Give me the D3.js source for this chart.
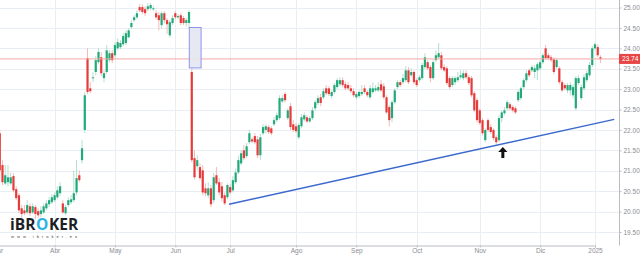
<!DOCTYPE html>
<html>
<head>
<meta charset="utf-8">
<script src="https://cdn.jsdelivr.net/npm/d3@7"></script>
<style>
    body { margin: 0; background: #fff; }
    svg { display: block; font-family: Roboto, "Open Sans", sans-serif; }
</style>
</head>
<body>
<svg id="chart" width="640" height="256"></svg>
<script>
// daily candles, first one is session 1 of the index axis
var first_index = 1;

var open_p = [
    21.92, 21.14, 20.69, 20.72, 20.69, 20.87, 20.55, 20.40, 20.08, 20.03,
    19.98, 20.13, 19.98, 20.11, 20.01, 19.94, 19.98, 20.08, 20.18, 20.23,
    20.28, 20.35, 20.45, 20.20, 19.96, 20.16, 20.23, 20.28, 20.47, 20.89,
    21.26, 22.00, 23.76, 23.02, 23.27, 23.42, 23.66, 23.78, 23.27, 23.42,
    23.71, 23.88, 23.83, 24.00, 24.03, 24.10, 24.13, 24.27, 24.52, 24.69,
    24.76, 25.01, 25.01, 24.96, 24.96, 24.98, 24.96, 24.86, 24.81, 24.57,
    24.86, 24.69, 24.32, 24.62, 24.86, 24.76, 24.81, 24.74, 24.62, 24.62,
    23.42, 21.31, 21.11, 21.09, 21.01, 20.57, 20.40, 20.57, 20.28, 20.89,
    20.72, 20.62, 20.40, 20.35, 20.60, 20.52, 20.72, 20.96, 21.18, 21.50,
    21.36, 21.70, 21.77, 21.85, 21.77, 21.38, 21.92, 22.00, 22.07, 22.04,
    22.14, 22.24, 22.29, 22.70, 22.88, 22.29, 22.58, 22.14, 22.09, 21.82,
    22.09, 22.26, 22.31, 22.21, 22.29, 22.53, 22.66, 22.80, 22.80, 23.02,
    23.02, 22.83, 22.93, 23.05, 23.12, 23.22, 23.12, 23.10, 23.02, 22.95,
    22.80, 22.83, 22.88, 23.02, 22.93, 22.80, 22.93, 22.97, 22.97, 23.12,
    23.07, 22.80, 22.56, 22.29, 22.68, 23.05, 23.17, 23.17, 23.22, 23.46,
    23.34, 23.42, 23.22, 23.22, 23.27, 23.54, 23.66, 23.54, 23.27, 23.71,
    23.78, 23.83, 23.54, 23.51, 23.27, 23.10, 23.17, 23.22, 23.29, 23.27,
    23.39, 23.29, 23.27, 22.90, 22.73, 22.48, 22.24, 21.75, 22.24, 22.07,
    22.00, 21.82, 21.75, 22.29, 22.41, 22.53, 22.63, 22.56, 22.53, 22.73,
    22.78, 23.05, 23.22, 23.46, 23.46, 23.42, 23.46, 23.51, 23.66, 24.00,
    23.83, 23.78, 23.73, 23.54, 23.51, 23.17, 23.10, 22.97, 22.97, 22.85,
    22.53, 23.15, 22.78, 23.02, 23.22, 23.34, 23.59, 24.00, 24.03, 23.78
];
var high_p = [
    22.00, 21.26, 21.14, 21.14, 20.96, 20.94, 20.62, 20.45, 20.16, 20.16,
    20.28, 20.20, 20.20, 20.16, 20.08, 20.13, 20.20, 20.28, 20.35, 20.43,
    20.47, 20.62, 20.72, 20.28, 20.16, 20.35, 20.40, 21.01, 21.26, 21.01,
    21.75, 22.93, 24.00, 23.17, 23.42, 23.81, 24.00, 23.91, 23.46, 24.08,
    23.95, 23.95, 24.15, 24.25, 24.20, 24.37, 24.44, 24.49, 24.69, 24.81,
    24.93, 25.08, 25.08, 25.03, 25.11, 25.11, 25.03, 24.93, 24.89, 24.91,
    24.91, 24.74, 24.69, 24.81, 24.91, 24.84, 24.86, 24.79, 24.74, 24.93,
    23.51, 21.50, 21.38, 21.18, 21.14, 20.69, 20.72, 20.65, 20.94, 21.09,
    20.82, 20.72, 20.47, 20.69, 20.67, 20.87, 21.06, 21.36, 21.50, 21.63,
    21.68, 22.00, 21.82, 21.92, 21.85, 21.90, 22.14, 22.14, 22.12, 22.09,
    22.31, 22.43, 22.85, 22.85, 22.93, 22.53, 22.66, 22.24, 22.17, 22.17,
    22.39, 22.43, 22.36, 22.34, 22.56, 22.73, 22.85, 22.88, 23.02, 23.10,
    23.07, 22.97, 23.15, 23.27, 23.29, 23.29, 23.19, 23.17, 23.10, 23.02,
    22.93, 22.97, 23.10, 23.10, 22.97, 23.10, 23.17, 23.10, 23.17, 23.22,
    23.15, 22.85, 22.61, 22.73, 23.02, 23.22, 23.22, 23.37, 23.56, 23.54,
    23.51, 23.46, 23.27, 23.34, 23.64, 23.88, 23.71, 23.59, 23.71, 23.95,
    24.13, 23.91, 23.61, 23.56, 23.32, 23.32, 23.32, 23.42, 23.46, 23.46,
    23.46, 23.34, 23.32, 22.95, 22.78, 22.53, 22.29, 22.04, 22.29, 22.14,
    22.04, 21.87, 22.36, 22.48, 22.56, 22.73, 22.68, 22.61, 22.58, 22.97,
    23.07, 23.27, 23.46, 23.51, 23.59, 23.59, 23.66, 23.71, 23.88, 24.08,
    23.88, 23.83, 23.78, 23.76, 23.56, 23.22, 23.15, 23.15, 23.17, 23.12,
    23.32, 23.34, 23.12, 23.37, 23.46, 23.66, 24.05, 24.15, 24.10, 23.83
];
var low_p = [
    20.82, 20.65, 20.65, 20.62, 20.65, 20.47, 20.28, 19.96, 19.84, 19.91,
    19.94, 19.89, 19.94, 19.81, 19.84, 19.86, 19.94, 20.03, 20.11, 20.18,
    20.23, 20.30, 20.38, 19.94, 19.91, 20.11, 20.18, 20.23, 20.40, 20.72,
    21.18, 21.92, 22.88, 22.90, 23.17, 23.34, 23.61, 23.32, 23.17, 23.37,
    23.66, 23.64, 23.78, 23.95, 23.98, 24.05, 24.08, 24.25, 24.47, 24.64,
    24.71, 24.89, 24.84, 24.79, 24.91, 24.93, 24.91, 24.71, 24.44, 24.49,
    24.62, 24.35, 24.27, 24.57, 24.71, 24.71, 24.57, 24.57, 24.54, 24.49,
    21.21, 20.79, 21.01, 20.77, 20.40, 20.38, 20.33, 20.11, 20.20, 20.65,
    20.40, 20.25, 20.16, 20.30, 20.43, 20.47, 20.67, 20.92, 21.14, 21.26,
    21.31, 21.65, 21.68, 21.65, 21.31, 21.26, 21.87, 21.92, 21.90, 21.87,
    22.09, 22.19, 22.24, 22.66, 22.68, 22.24, 22.00, 21.95, 21.92, 21.77,
    22.04, 22.21, 22.17, 22.17, 22.24, 22.48, 22.61, 22.58, 22.75, 22.85,
    22.83, 22.78, 22.88, 23.00, 23.07, 23.05, 22.97, 22.97, 22.90, 22.80,
    22.75, 22.78, 22.83, 22.88, 22.80, 22.75, 22.88, 22.93, 22.93, 22.93,
    22.75, 22.39, 22.09, 22.19, 22.63, 23.00, 23.05, 23.12, 23.17, 23.12,
    23.29, 23.12, 23.05, 23.17, 23.22, 23.49, 23.46, 23.17, 23.22, 23.66,
    23.73, 23.46, 23.42, 23.10, 23.00, 23.05, 23.10, 23.17, 23.24, 23.22,
    23.24, 23.10, 22.80, 22.43, 22.19, 22.12, 21.87, 21.70, 21.95, 21.90,
    21.75, 21.65, 21.70, 22.19, 22.36, 22.48, 22.48, 22.43, 22.39, 22.68,
    22.73, 23.00, 23.17, 23.29, 23.42, 23.27, 23.22, 23.46, 23.61, 23.71,
    23.71, 23.66, 23.37, 23.49, 23.12, 22.93, 22.97, 22.90, 22.85, 22.78,
    22.48, 23.10, 22.73, 22.97, 23.17, 23.29, 23.54, 23.95, 23.78, 23.64
];
var close_p = [
    21.01, 20.72, 20.89, 20.84, 20.84, 20.52, 20.33, 20.03, 19.94, 19.96,
    20.16, 19.96, 20.13, 19.94, 19.91, 20.03, 20.13, 20.20, 20.28, 20.35,
    20.40, 20.52, 20.62, 19.98, 20.11, 20.28, 20.30, 20.45, 20.82, 20.77,
    21.55, 22.85, 22.93, 22.95, 23.29, 23.71, 23.91, 23.39, 23.39, 23.95,
    23.88, 23.71, 24.08, 24.15, 24.13, 24.30, 24.37, 24.44, 24.62, 24.76,
    24.86, 24.93, 24.89, 24.86, 25.03, 25.06, 24.98, 24.76, 24.69, 24.86,
    24.69, 24.59, 24.64, 24.74, 24.76, 24.79, 24.62, 24.62, 24.69, 24.89,
    21.26, 20.84, 21.26, 20.82, 20.47, 20.45, 20.57, 20.18, 20.84, 20.69,
    20.47, 20.33, 20.20, 20.65, 20.47, 20.77, 20.96, 21.26, 21.43, 21.31,
    21.60, 21.92, 21.72, 21.70, 21.38, 21.82, 22.07, 22.09, 21.95, 21.92,
    22.24, 22.36, 22.78, 22.78, 22.73, 22.48, 22.07, 22.00, 21.97, 22.12,
    22.31, 22.36, 22.21, 22.29, 22.48, 22.68, 22.78, 22.66, 22.95, 22.90,
    22.88, 22.93, 23.10, 23.22, 23.22, 23.10, 23.02, 23.02, 22.95, 22.85,
    22.88, 22.93, 22.93, 22.93, 22.85, 23.02, 23.02, 23.02, 23.05, 22.97,
    22.80, 22.43, 22.24, 22.68, 22.97, 23.17, 23.10, 23.27, 23.46, 23.17,
    23.42, 23.17, 23.10, 23.29, 23.59, 23.78, 23.51, 23.27, 23.66, 23.83,
    23.88, 23.51, 23.46, 23.15, 23.05, 23.27, 23.27, 23.29, 23.34, 23.39,
    23.29, 23.15, 22.85, 22.48, 22.24, 22.17, 21.92, 22.00, 22.00, 21.95,
    21.80, 21.70, 22.29, 22.43, 22.48, 22.68, 22.53, 22.48, 22.43, 22.93,
    23.02, 23.22, 23.39, 23.34, 23.54, 23.51, 23.61, 23.66, 23.83, 23.76,
    23.76, 23.71, 23.42, 23.71, 23.17, 22.97, 23.02, 23.10, 23.10, 23.05,
    23.27, 23.27, 23.05, 23.29, 23.39, 23.59, 24.00, 24.10, 23.83, 23.74
];

// month boundaries on the session axis
var month_labels = ['Mar', 'Abr', 'May', 'Jun', 'Jul', 'Ago', 'Sep', 'Oct', 'Nov', 'Dic', '2025'];
var month_index = [0, 21, 43, 65, 85, 109, 131, 153, 176, 198, 218];

var price_ticks = [19.5, 20.0, 20.5, 21.0, 21.5, 22.0, 22.5, 23.0, 23.5, 24.0, 24.5, 25.0];
var last_price = 23.74;

// annotations: [session, price]
var trend_line = [[84.6, 20.18], [225, 22.26]];
var gap_box = {from: 70.1, to: 74.4, top: 24.51, bottom: 23.52};
var arrow_at = [184.4, 21.58];

var plot_right = 619, plot_bottom = 245;
var green = '#22a979', red = '#e63b3b';

var svg = d3.select('#chart');
var x = d3.scaleLinear().domain([0, 218]).range([-3, 595]);
var y = d3.scaleLinear().domain([19.5, 25]).range([232, 7.5]);

svg.append('defs').append('clipPath').attr('id', 'plot_clip')
    .append('rect').attr('x', 0).attr('y', 0).attr('width', plot_right).attr('height', plot_bottom);

function draw_grid(){
    var grid = svg.append('g').attr('class', 'grid');
    grid.selectAll('line.h').data(price_ticks).enter().append('line')
        .attr('class', 'h')
        .attr('x1', 0).attr('x2', plot_right)
        .attr('y1', function(d){ return Math.round(y(d)) + 0.5; })
        .attr('y2', function(d){ return Math.round(y(d)) + 0.5; })
        .attr('stroke', '#e9edf4');
    grid.selectAll('line.v').data(month_index).enter().append('line')
        .attr('class', 'v')
        .attr('x1', function(d){ return Math.round(x(d)) + 0.5; })
        .attr('x2', function(d){ return Math.round(x(d)) + 0.5; })
        .attr('y1', 0).attr('y2', plot_bottom)
        .attr('stroke', '#e9edf4');
}

function draw_candles(){
    var g = svg.append('g').attr('clip-path', 'url(#plot_clip)');
    var rows = open_p.map(function(o, i){
        return {i: first_index + i, o: o, h: high_p[i], l: low_p[i], c: close_p[i]};
    });
    g.selectAll('line.wick').data(rows).enter().append('line')
        .attr('class', 'wick')
        .attr('x1', function(d){ return x(d.i); })
        .attr('x2', function(d){ return x(d.i); })
        .attr('y1', function(d){ return y(d.h); })
        .attr('y2', function(d){ return y(d.l); })
        .attr('stroke', function(d){ return d.c >= d.o ? '#9ed8c2' : '#f3a7a7'; })
        .attr('stroke-width', 0.8);
    g.selectAll('rect.body').data(rows).enter().append('rect')
        .attr('class', 'body')
        .attr('x', function(d){ return x(d.i) - 1.1; })
        .attr('width', 2.2)
        .attr('y', function(d){ return y(Math.max(d.o, d.c)); })
        .attr('height', function(d){ return Math.max(1, Math.abs(y(d.o) - y(d.c))); })
        .attr('fill', function(d){ return d.c >= d.o ? green : red; });
}

function draw_annotations(){
    var g = svg.append('g').attr('clip-path', 'url(#plot_clip)');

    // last price line
    g.append('line')
        .attr('x1', 0).attr('x2', plot_right)
        .attr('y1', y(last_price)).attr('y2', y(last_price))
        .attr('stroke', '#f6a9a9').attr('stroke-width', 1);

    // gap box
    g.append('rect')
        .attr('x', x(gap_box.from)).attr('width', x(gap_box.to) - x(gap_box.from))
        .attr('y', y(gap_box.top)).attr('height', y(gap_box.bottom) - y(gap_box.top))
        .attr('fill', '#e3e7f0').attr('fill-opacity', 0.9)
        .attr('stroke', '#8f93ee').attr('stroke-width', 1);

    // support line
    g.append('line')
        .attr('x1', x(trend_line[0][0])).attr('y1', y(trend_line[0][1]))
        .attr('x2', x(trend_line[1][0])).attr('y2', y(trend_line[1][1]))
        .attr('stroke', '#3a68cc').attr('stroke-width', 1.4);

    // arrow under the touch point
    var ax = x(arrow_at[0]), ay = y(arrow_at[1]);
    g.append('path')
        .attr('d', 'M' + ax + ',' + ay +
            ' l4.6,5 l-3.1,0 l0,6 l-3,0 l0,-6 l-3.1,0 Z')
        .attr('fill', '#111');
}

function draw_axes(){
    var ay = svg.append('g').attr('transform', 'translate(' + (plot_right + 0.5) + ',0)')
        .call(d3.axisRight(y).tickValues(price_ticks).tickFormat(d3.format('.2f')).tickSize(2).tickPadding(2));
    var ax = svg.append('g').attr('transform', 'translate(0,' + (plot_bottom + 0.5) + ')')
        .call(d3.axisBottom(x).tickValues(month_index)
            .tickFormat(function(d, i){ return month_labels[i]; }).tickSize(2).tickPadding(1));
    [ay, ax].forEach(function(a){
        a.select('.domain').attr('stroke', '#b9bcc2');
        a.selectAll('.tick line').attr('stroke', '#b9bcc2');
        a.selectAll('.tick text').attr('fill', '#8a8d92').style('font-size', '6.5px');
    });
    ay.select('.domain').attr('d', 'M0,0V' + (plot_bottom + 0.5));

    // current price tag
    var tag = svg.append('g').attr('transform', 'translate(' + plot_right + ',' + y(last_price) + ')');
    tag.append('rect').attr('x', 0).attr('y', -5).attr('width', 21).attr('height', 10).attr('fill', '#e84545');
    tag.append('text').attr('x', 3).attr('y', 2.4).attr('fill', '#fff')
        .style('font-size', '6.5px').text(d3.format('.2f')(last_price));
}

function draw_logo(){
    var g = svg.append('g');
    // brand name in three pieces so the O can take the accent colour
    var parts = [['iBR', '#1d1f24'], ['O', '#2fb3e6'], ['KER', '#1d1f24']];
    var cx = 10;
    parts.forEach(function(p){
        var t = g.append('text').attr('x', cx).attr('y', 230)
            .style('font-family', '"Open Sans", "DejaVu Sans", sans-serif')
            .style('font-weight', 700).style('font-size', '15.5px')
            .attr('fill', p[1]).text(p[0]);
        cx += t.node().getComputedTextLength() + 0.6;
    });
    g.append('text').attr('x', 11).attr('y', 238)
        .attr('textLength', 66).attr('lengthAdjust', 'spacing')
        .style('font-size', '4px').attr('fill', '#444')
        .text('www.ibroker.es');
}

draw_grid();
draw_candles();
draw_annotations();
draw_axes();
draw_logo();
</script>
</body>
</html>
